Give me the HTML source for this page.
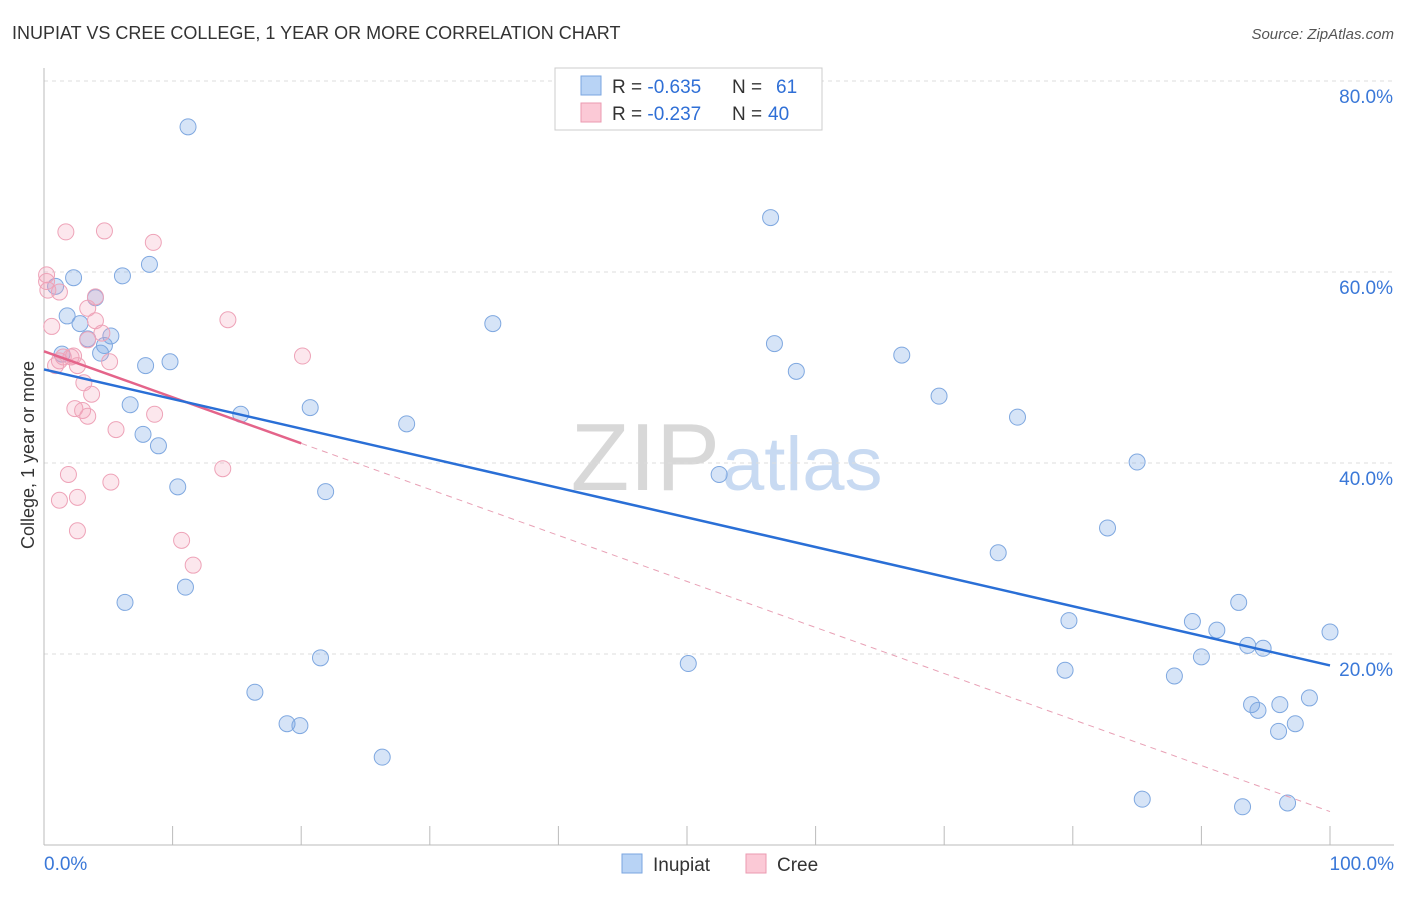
<!DOCTYPE html>
<html><head><meta charset="utf-8">
<style>
body{margin:0;background:#fff;font-family:"Liberation Sans",sans-serif;}
svg text{font-family:"Liberation Sans",sans-serif;}
</style></head>
<body>
<svg id="chart" width="1406" height="892">
<text x="12" y="39" font-size="18" fill="#333">INUPIAT VS CREE COLLEGE, 1 YEAR OR MORE CORRELATION CHART</text>
<text x="1394" y="39" font-size="15" fill="#555" font-style="italic" text-anchor="end">Source: ZipAtlas.com</text>
<text x="720" y="490" font-size="96" fill="#d8d8d8" text-anchor="end" font-family="Liberation Serif">ZIP</text>
<text x="722" y="490" font-size="76" fill="#c8daf2">atlas</text>
<text transform="translate(34,455) rotate(-90)" font-size="18" fill="#333" text-anchor="middle">College, 1 year or more</text>
<g id="grid"></g>
<g id="marks"></g>
<g>
<rect x="555" y="68" width="267" height="62" fill="#fff" stroke="#ccc"/>
<rect x="581" y="76" width="20" height="19" fill="#b8d3f5" stroke="#7aa6e0"/>
<rect x="581" y="103" width="20" height="19" fill="#fbc9d6" stroke="#eb9ab0"/>
<text x="612" y="93" font-size="19" fill="#333">R = <tspan fill="#2f6fd6">-0.635</tspan><tspan x="732">N = </tspan><tspan x="776" fill="#2f6fd6">61</tspan></text>
<text x="612" y="120" font-size="19" fill="#333">R = <tspan fill="#2f6fd6">-0.237</tspan><tspan x="732">N = </tspan><tspan x="768" fill="#2f6fd6">40</tspan></text>
</g>
<g>
<rect x="622" y="854" width="20" height="19" fill="#b8d3f5" stroke="#7aa6e0"/>
<text x="653" y="871" font-size="19" fill="#333">Inupiat</text>
<rect x="746" y="854" width="20" height="19" fill="#fbc9d6" stroke="#eb9ab0"/>
<text x="777" y="871" font-size="19" fill="#333">Cree</text>
</g>
</svg>
<script>
const xTicks=[0,10,20,30,40,50,60,70,80,90,100];
const yTicks=[20,40,60,80];
const inupiatX=[11.2,56.5,8.2,6.1,2.3,0.9,4.0,1.8,2.8,34.9,5.2,3.4,4.7,4.4,1.4,56.8,66.7,7.9,9.8,58.5,69.6,6.7,15.3,20.7,75.7,28.2,7.7,8.9,85.0,52.5,10.4,21.9,82.7,74.2,11.0,6.3,92.9,79.7,89.3,91.2,100,93.6,94.8,21.5,50.1,90.0,79.4,87.9,16.4,98.4,93.9,96.1,94.4,97.3,96.0,18.9,19.9,26.3,85.4,93.2,96.7];
const inupiatY=[75.2,65.7,60.8,59.6,59.4,58.5,57.3,55.4,54.6,54.6,53.3,53.0,52.3,51.5,51.4,52.5,51.3,50.2,50.6,49.6,47.0,46.1,45.1,45.8,44.8,44.1,43.0,41.8,40.1,38.8,37.5,37.0,33.2,30.6,27.0,25.4,25.4,23.5,23.4,22.5,22.3,20.9,20.6,19.6,19.0,19.7,18.3,17.7,16.0,15.4,14.7,14.7,14.1,12.7,11.9,12.7,12.5,9.2,4.8,4.0,4.4];
const creeX=[0.2,1.7,4.7,8.5,1.2,4.0,14.3,0.6,3.4,4.0,4.5,3.4,20.1,2.1,1.2,1.5,2.3,2.6,5.1,0.9,3.1,3.7,2.4,3.0,3.4,8.6,5.6,13.9,1.9,5.2,2.6,1.2,2.6,10.7,11.6,0.3,0.2];
const creeY=[59.7,64.2,64.3,63.1,57.9,57.4,55.0,54.3,56.2,54.9,53.6,52.9,51.2,51.1,50.7,51.1,51.2,50.2,50.6,50.2,48.4,47.2,45.7,45.5,44.9,45.1,43.5,39.4,38.8,38.0,36.4,36.1,32.9,31.9,29.3,58.1,59.0];
const blueLine=[49.8,18.8];
const pinkLine=[51.7,3.5];
const NS='http://www.w3.org/2000/svg';
const sx=v=>44+v*12.86, sy=v=>845-v*9.55;
function mk(tag,attrs,parent){const e=document.createElementNS(NS,tag);for(const k in attrs)e.setAttribute(k,attrs[k]);parent.appendChild(e);return e;}
const grid=document.getElementById('grid'), marks=document.getElementById('marks');
yTicks.forEach(t=>{
 const l=mk('line',{x1:44,x2:1394,y1:sy(t),y2:sy(t),stroke:'#ddd','stroke-dasharray':'4,4'},grid);
 
 
 const tx=mk('text',{x:1393,y:sy(t)+22,'font-size':19,fill:'#3a78d8','text-anchor':'end'},grid);
 tx.textContent=t.toFixed(1)+'%';
 
 
});
const ax=mk('line',{x1:44,x2:1394,y1:845,y2:845,stroke:'#bbb'},grid);


const ay=mk('line',{x1:44,x2:44,y1:68,y2:845,stroke:'#bbb'},grid);


xTicks.forEach(t=>{
 const l=mk('line',{x1:sx(t),x2:sx(t),y1:826,y2:845,stroke:'#bbb'},grid);
 
 
});
[[0,'start'],[100,'end']].forEach(([t,a])=>{
 const tx=mk('text',{x:t===0?44:1394,y:870,'font-size':19,fill:'#3a78d8','text-anchor':a},grid);
 tx.textContent=t.toFixed(1)+'%';
 
 
});
inupiatX.forEach((x,i)=>{
 const c=mk('circle',{cx:sx(x),cy:sy(inupiatY[i]),r:8,fill:'rgba(120,165,230,0.3)',stroke:'#7fa8e0','stroke-width':1},marks);
 
 
});
creeX.forEach((x,i)=>{
 const c=mk('circle',{cx:sx(x),cy:sy(creeY[i]),r:8,fill:'rgba(245,160,185,0.25)',stroke:'#eea3b8','stroke-width':1},marks);
 
 
});
const pd=mk('line',{x1:sx(20),y1:sy(pinkLine[0]+(pinkLine[1]-pinkLine[0])*0.2),x2:sx(100),y2:sy(pinkLine[1]),stroke:'#e8a0b5','stroke-width':1,'stroke-dasharray':'6,5'},marks);


const ps=mk('line',{x1:sx(0),y1:sy(pinkLine[0]),x2:sx(20),y2:sy(pinkLine[0]+(pinkLine[1]-pinkLine[0])*0.2),stroke:'#e4648a','stroke-width':2.5},marks);


const bl=mk('line',{x1:sx(0),y1:sy(blueLine[0]),x2:sx(100),y2:sy(blueLine[1]),stroke:'#2a6fd6','stroke-width':2.5},marks);


</script>
</body></html>
